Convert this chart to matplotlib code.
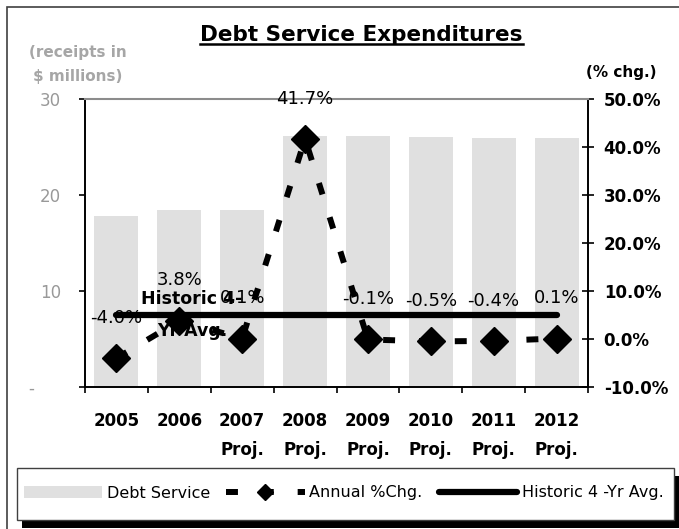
import numpy as np
import matplotlib
matplotlib.use('Agg')
import matplotlib.pyplot as plt
from matplotlib.lines import Line2D
from matplotlib.patches import Patch, Rectangle

# datos
years = ['2005', '2006', '2007\nProj.', '2008\nProj.', '2009\nProj.',
         '2010\nProj.', '2011\nProj.', '2012\nProj.']
debt_service = [17.8, 18.45, 18.47, 26.17, 26.15, 26.02, 25.92, 25.95]
pct_chg = [-4.0, 3.8, 0.1, 41.7, -0.1, -0.5, -0.4, 0.1]
hist_avg = [5.0] * 8
left_ticks = [0, 10, 20, 30]
left_labels = ['-     ', '10', '20', '30']
right_ticks = [-10, 0, 10, 20, 30, 40, 50]

plt.rcParams['font.family'] = ['DejaVu Sans']
W, H = 679, 529
fig = plt.figure(figsize=(W / 100, H / 100), dpi=100)
fig.patch.set_facecolor('white')

ax = fig.add_axes([85 / W, 1 - 387 / H, 503 / W, 288 / H])
x = np.arange(len(years))

ax.bar(x, debt_service, width=0.7, color='#e0e0e0', zorder=1)
ax.set_xlim(-0.5, 7.5)
ax.set_ylim(0, 30)
ax.set_yticks(left_ticks, left_labels)
ax.tick_params(axis='y', direction='out', length=4.3, width=1.2,
               labelsize=12, labelcolor='#999999', pad=13)
ax.set_xticks(x, years, fontweight='bold', fontsize=12, linespacing=1.8)
ax.set_xticks(np.arange(-0.5, 8, 1), minor=True)
ax.tick_params(axis='x', which='major', length=0, pad=18)
ax.tick_params(axis='x', which='minor', direction='out', length=4.3, width=1.2)
for s in ['top', 'right']:
    ax.spines[s].set_visible(False)
ax.spines['left'].set_linewidth(1.4)
ax.spines['bottom'].set_linewidth(1.4)

ax2 = ax.twinx()
ax2.plot(x, hist_avg, color='black', lw=4.5, solid_capstyle='round', zorder=2)
ax2.plot(x, pct_chg, color='black', lw=4.3, ls=(0, (2, 4)), dash_capstyle='butt',
         marker='D', ms=14, zorder=3)
ax2.set_ylim(-10, 50)
ax2.set_yticks(right_ticks, [f'{v:.1f}%' for v in right_ticks])
ax2.tick_params(axis='y', direction='inout', length=8.6, width=1.2,
                labelsize=12, pad=7)
for lab in ax2.get_yticklabels():
    lab.set_fontweight('bold')
ax2.spines['left'].set_visible(False)
ax2.spines['bottom'].set_visible(False)
ax2.spines['top'].set_color('#8c8c8c')
ax2.spines['top'].set_linewidth(1.5)
ax2.spines['right'].set_linewidth(1.4)

for i, v in enumerate(pct_chg):
    ax2.annotate(f'{v:.1f}%', (i, v), xytext=(0, 29), textcoords='offset points',
                 ha='center', va='center', fontsize=13, zorder=4)
ax2.text(1.2, hist_avg[1], 'Historic 4-\nYr Avg.', ha='center', va='center',
         fontsize=12.5, fontweight='bold', linespacing=2.0, zorder=4)

# textos de ejes y titulo
title = fig.text(361.5 / W, 1 - 35 / H, 'Debt Service Expenditures', ha='center',
                 va='center', fontsize=15.5, fontweight='bold')
fig.text(78 / W, 1 - 64.5 / H, '(receipts in\n$ millions)', ha='center', va='center',
         fontsize=11, fontweight='bold', color='#a6a6a6', linespacing=1.7)
fig.text(621 / W, 1 - 72 / H, '(% chg.)', ha='center', va='center',
         fontsize=11, fontweight='bold')

# marco exterior y caja de leyenda con sombra
fig.add_artist(Rectangle((7 / W, -0.05), 1, 1.05 - 7 / H, fill=False,
                         edgecolor='#404040', lw=1.2, transform=fig.transFigure))
fig.add_artist(Rectangle((22 / W, 1 - 528 / H), 657 / W, 52 / H, facecolor='black',
                         edgecolor='none', transform=fig.transFigure, zorder=1))
fig.add_artist(Rectangle((17 / W, 1 - 520 / H), 657 / W, 52 / H, facecolor='white',
                         edgecolor='#404040', lw=1.0, transform=fig.transFigure, zorder=2))

handles = [Patch(facecolor='#e0e0e0', edgecolor='none'),
           Line2D([], [], color='black', lw=4.3, ls=(0, (2, 4)), marker='D', ms=14),
           Line2D([], [], color='black', lw=4.5, solid_capstyle='round')]
labels = ['Debt Service', 'Annual %Chg.', 'Historic 4 -Yr Avg.']
fig.legend(handles, labels, loc='center left', bbox_to_anchor=(24 / W, 1 - 493 / H),
           ncol=3, frameon=False, fontsize=11.5, handlelength=4.9, handletextpad=0.3,
           columnspacing=1.0, borderpad=0, borderaxespad=0, markerscale=0.55)

# subrayado del titulo
fig.canvas.draw()
bb = title.get_window_extent().transformed(fig.transFigure.inverted())
fig.add_artist(Line2D([bb.x0, bb.x1], [bb.y0 + 0.002, bb.y0 + 0.002], color='black',
                      lw=1.8, transform=fig.transFigure))

fig.savefig('out.png', dpi=100)
plt.close()
